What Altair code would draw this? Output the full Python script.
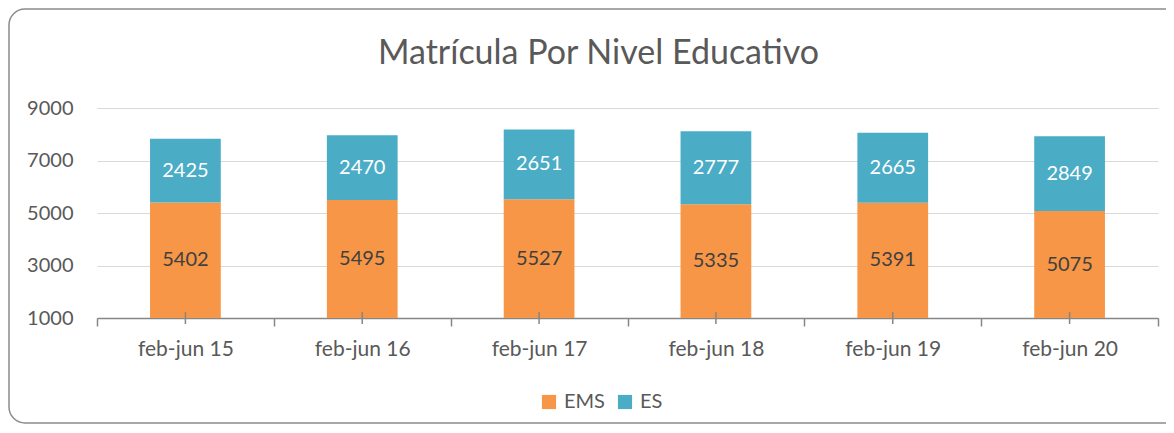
import altair as alt
import pandas as pd

periods = ["feb-jun 15", "feb-jun 16", "feb-jun 17", "feb-jun 18", "feb-jun 19", "feb-jun 20"]
ems = [5402, 5495, 5527, 5335, 5391, 5075]
es = [2425, 2470, 2651, 2777, 2665, 2849]
levels = ["EMS", "ES"]
colors = ["#F79646", "#4BACC6"]
y_ticks = [1000, 3000, 5000, 7000, 9000]

rows = []
for p, a, b in zip(periods, ems, es):
    rows.append({"period": p, "level": "EMS", "value": a, "ord": 0})
    rows.append({"period": p, "level": "ES", "value": b, "ord": 1})
df = pd.DataFrame(rows)

FONT = "Lato"
GRAY = "#595959"
W, H = 1061, 210

xscale = alt.Scale(domain=periods, paddingInner=0, paddingOuter=0)
yscale = alt.Scale(domain=[1000, 9000], nice=False)

base = alt.Chart(df).transform_stack(
    stack="value", groupby=["period"], as_=["y0", "y1"],
    sort=[alt.SortField("ord", order="ascending")]
).transform_calculate(mid="(max(datum.y0, 1000) + datum.y1) / 2")

bars = base.mark_bar(clip=True, width=alt.RelativeBandSize(0.4)).encode(
    x=alt.X("period:N", scale=xscale, sort=periods, axis=alt.Axis(
        title=None, tickBand="extent", tickSize=8, tickColor="#868686", tickWidth=1.5,
        domainColor="#868686", domainWidth=1.5, labelPadding=12, labelFontSize=21,
        labelColor=GRAY, labelFont=FONT, labelAngle=0, grid=False)),
    y=alt.Y("y0:Q", scale=yscale, axis=alt.Axis(
        title=None, values=y_ticks, format="d", domain=False, ticks=False, tickSize=0,
        labelPadding=24, labelFontSize=20, labelColor=GRAY, labelFont=FONT,
        grid=True, gridColor="#D9D9D9", gridWidth=1.2)),
    y2="y1:Q",
    color=alt.Color("level:N", scale=alt.Scale(domain=levels, range=colors),
                    legend=alt.Legend(title=None, orient="none", legendX=442, legendY=284,
                                      direction="horizontal", symbolType="square",
                                      symbolSize=200, symbolStrokeWidth=0,
                                      labelFontSize=20, labelColor=GRAY, labelFont=FONT,
                                      labelOffset=5, columnPadding=10)),
)

labels = base.mark_text(fontSize=20, font=FONT, baseline="middle", align="center").encode(
    x=alt.X("period:N", scale=xscale, sort=periods),
    y=alt.Y("mid:Q", scale=yscale),
    text=alt.Text("value:Q", format="d"),
    color=alt.when(alt.datum.level == "ES").then(alt.value("white")).otherwise(alt.value("#404040")),
)

center_ticks = alt.Chart(pd.DataFrame({"period": periods})).mark_rule(
    color="#868686", strokeWidth=1.5
).encode(
    x=alt.X("period:N", scale=xscale, sort=periods),
    y=alt.value(H - 6), y2=alt.value(H + 6),
)

frame = alt.Chart(pd.DataFrame({"a": [0]})).mark_rect(
    fill=None, stroke="#8C8C8C", strokeWidth=1.5, cornerRadius=16, clip=False
).encode(
    x=alt.value(-88), x2=alt.value(1095), y=alt.value(-99), y2=alt.value(315),
)

chart = alt.layer(frame, bars, labels, center_ticks).properties(
    width=W, height=H,
    autosize=alt.AutoSizeParams(type="none"),
    padding={"left": 89, "top": 100, "right": 8, "bottom": 107},
    title=alt.TitleParams("Matrícula Por Nivel Educativo", fontSize=34, font=FONT,
                          fontWeight="normal", color=GRAY, anchor="middle", dx=-29,
                          offset=-63),
    background="white",
).configure_view(stroke=None)

chart.save("out.html", embed_options={"renderer": "svg", "actions": False})
